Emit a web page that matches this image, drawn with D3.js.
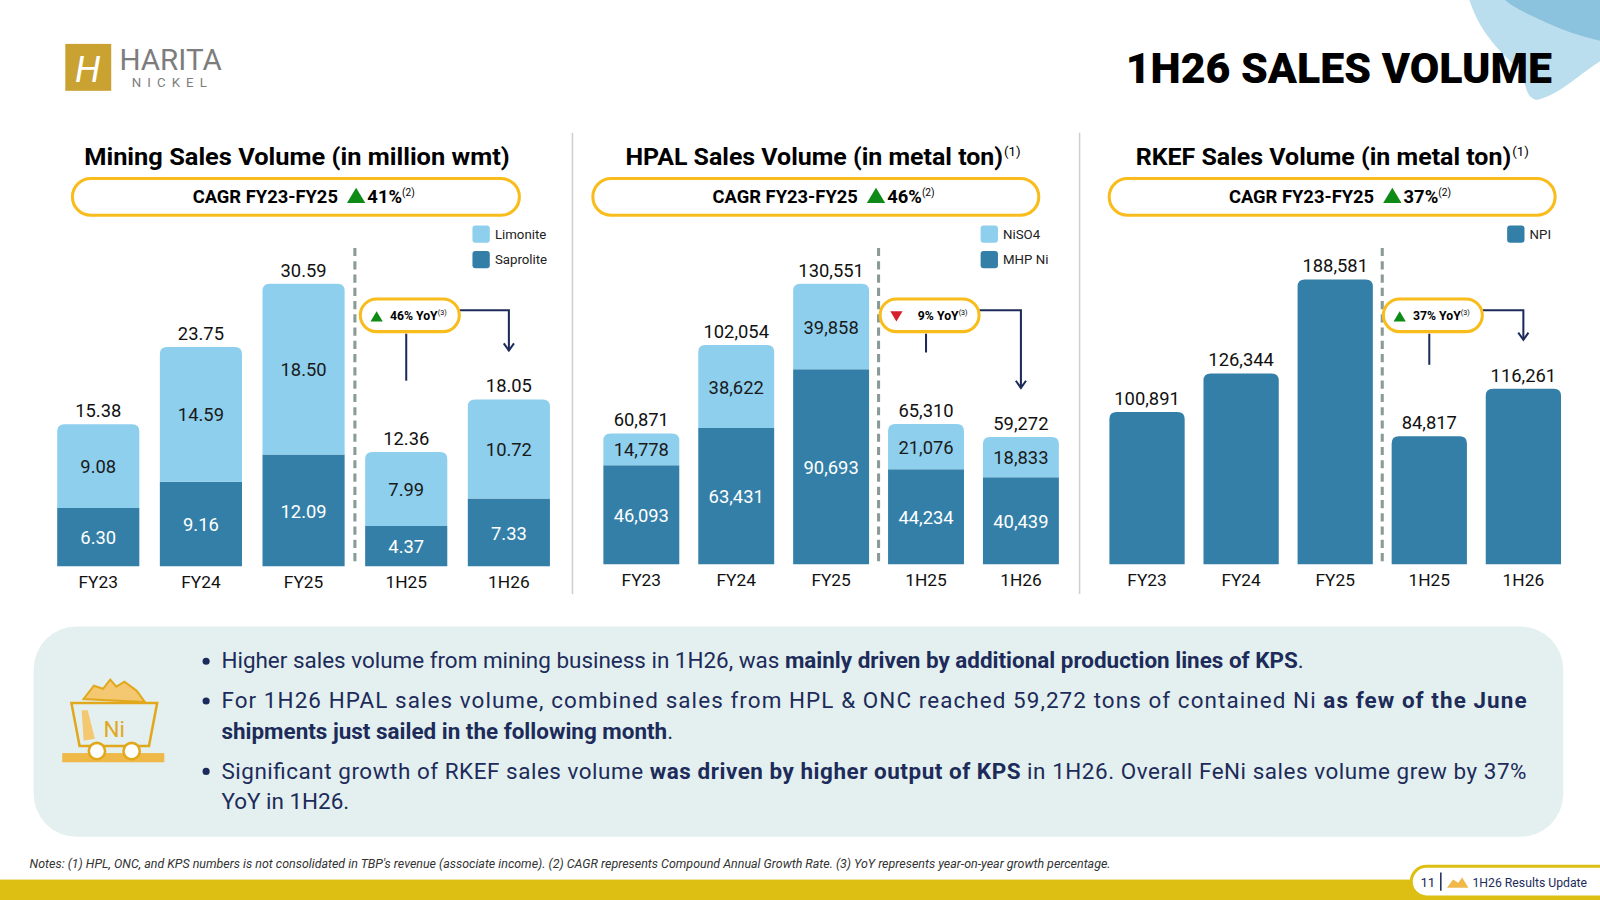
<!DOCTYPE html>
<html><head><meta charset="utf-8">
<script src="https://cdn.jsdelivr.net/npm/d3@7"></script>
<style>
body{margin:0;background:#fff;}
text{font-family:Roboto,"Open Sans",sans-serif;}
</style></head>
<body><div id="chart"></div>
<script>
// ---- data ----
const periods = ['FY23', 'FY24', 'FY25', '1H25', '1H26']
const limonite = [9.08, 14.59, 18.50, 7.99, 10.72]
const saprolite = [6.30, 9.16, 12.09, 4.37, 7.33]
const miningTotal = [15.38, 23.75, 30.59, 12.36, 18.05]
const niso4 = [14778, 38622, 39858, 21076, 18833]
const mhpNi = [46093, 63431, 90693, 44234, 40439]
const hpalTotal = [60871, 102054, 130551, 65310, 59272]
const npi = [100891, 126344, 188581, 84817, 116261]
const cagr = ['41%', '46%', '37%']
const yoy = [{v: '46%', up: true}, {v: '9%', up: false}, {v: '37%', up: true}]

const LIGHT = '#8dcfed', DARK = '#347fa8', NAVY = '#1d2b5a', GOLD = '#f8bd1c'

const svg = d3.select('#chart').append('svg')
    .attr('width', 1600).attr('height', 900)
    .attr('viewBox', '0 0 1568 882')

// top-right brush decoration
const deco = svg.append('g').attr('opacity', 0.8)
deco.append('path').attr('d', 'M1440,0 L1568,0 L1568,60 C1545,75 1525,95 1505,98 C1490,92 1500,75 1480,60 C1465,45 1450,30 1440,0Z').attr('fill', '#a9d6ea')
deco.append('path').attr('d', 'M1475,0 L1568,0 L1568,40 C1545,35 1520,25 1500,15 C1490,10 1480,5 1475,0Z').attr('fill', '#6fb3d6')

// logo
const logo = svg.append('g')
logo.append('rect').attr('x', 64).attr('y', 43).attr('width', 45).attr('height', 46).attr('fill', '#c9a232')
logo.append('text').attr('x', 86).attr('y', 80).attr('text-anchor', 'middle')
    .attr('font-family', 'DejaVu Serif').attr('font-style', 'italic').attr('font-size', 36).attr('fill', '#fff').text('H')
logo.append('text').attr('x', 117).attr('y', 69).attr('font-family', 'Liberation Serif').attr('font-size', 29).attr('fill', '#7d7d7d').text('HARITA')
logo.append('text').attr('x', 129).attr('y', 85).attr('font-family', 'Liberation Serif').attr('font-size', 13).attr('letter-spacing', 6).attr('fill', '#7d7d7d').text('NICKEL')

svg.append('text').attr('x', 1521).attr('y', 81).attr('text-anchor', 'end')
    .attr('font-weight', 900).attr('font-size', 42).attr('fill', '#000').text('1H26 SALES VOLUME')

// panel separators
;[561, 1058].forEach(x => svg.append('line').attr('x1', x).attr('x2', x).attr('y1', 130).attr('y2', 582).attr('stroke', '#cfcfcf').attr('stroke-width', 1.5))

function topRounded(x, y, w, h, r) {
    return `M${x},${y + h}V${y + r}Q${x},${y} ${x + r},${y}H${x + w - r}Q${x + w},${y} ${x + w},${y + r}V${y + h}Z`
}

const panels = [
    {title: 'Mining Sales Volume (in million wmt)', sup: false, cx: 291, tw: 417, pill: [71, 509], range: [46, 549], base: 555, top: 278, max: 30.59,
     series: [saprolite, limonite], totals: miningTotal, fmt: d3.format('.2f'), legend: ['Limonite', 'Saprolite'], legX: 463, axisY: 560},
    {title: 'HPAL Sales Volume (in metal ton)', sup: true, cx: 798, tw: 370, pill: [581, 1018], range: [582, 1047], base: 553, top: 278, max: 130551,
     series: [mhpNi, niso4], totals: hpalTotal, fmt: d3.format(','), legend: ['NiSO4', 'MHP Ni'], legX: 961, axisY: 558},
    {title: 'RKEF Sales Volume (in metal ton)', sup: true, cx: 1297, tw: 368, pill: [1087, 1524], range: [1078, 1539], base: 553, top: 274, max: 188581,
     series: [npi], totals: npi, fmt: d3.format(','), legend: ['NPI'], legX: 1477, axisY: 558}
]

panels.forEach((p, pi) => {
    const g = svg.append('g')
    g.append('text').attr('x', p.cx - p.tw / 2).attr('y', 162)
        .attr('font-weight', 700).attr('font-size', 23).attr('fill', '#000')
        .attr('textLength', p.tw).attr('lengthAdjust', 'spacingAndGlyphs').text(p.title)
    if (p.sup) g.append('text').attr('x', p.cx + p.tw / 2 + 1).attr('y', 153).attr('font-size', 13).text('(1)')

    // CAGR pill
    g.append('rect').attr('x', p.pill[0]).attr('y', 175).attr('width', p.pill[1] - p.pill[0]).attr('height', 36)
        .attr('rx', 18).attr('fill', '#fff').attr('stroke', GOLD).attr('stroke-width', 3)
    const mid = (p.pill[0] + p.pill[1]) / 2
    g.append('text').attr('x', mid - 30).attr('y', 199).attr('text-anchor', 'middle').attr('font-weight', 700).attr('font-size', 18).text('CAGR FY23-FY25')
    g.append('path').attr('d', `M${mid + 50},${199} l9,-15 l9,15z`).attr('fill', '#0e8a16')
    g.append('text').attr('x', mid + 70).attr('y', 199).attr('font-weight', 700).attr('font-size', 18).text(cagr[pi])
        .append('tspan').attr('font-size', 10).attr('dy', -7).attr('font-weight', 400).text('(2)')

    // legend
    const lcols = p.series.length === 2 ? [LIGHT, DARK] : [DARK]
    p.legend.forEach((l, i) => {
        g.append('rect').attr('x', p.legX).attr('y', 221 + i * 25).attr('width', 17).attr('height', 17).attr('rx', 3).attr('fill', lcols[i])
        g.append('text').attr('x', p.legX + 22).attr('y', 234 + i * 25).attr('font-size', 13).attr('fill', '#222').text(l)
    })

    const x = d3.scaleBand().domain(periods).range(p.range).paddingInner(0.2).paddingOuter(0.1)
    const y = d3.scaleLinear().domain([0, p.max]).range([p.base, p.top])
    const bw = x.bandwidth()

    // stacked bars
    const stacked = periods.map((per, i) => {
        let acc = 0
        return p.series.map((s, si) => {
            const seg = {per, y0: acc, y1: acc + s[i], v: s[i], si, last: si === p.series.length - 1}
            acc += s[i]
            return seg
        })
    }).flat()
    const colorOf = si => p.series.length === 2 ? (si === 0 ? DARK : LIGHT) : DARK

    g.selectAll('.bar').data(stacked).enter().append('path').attr('class', 'bar')
        .attr('d', d => d.last ? topRounded(x(d.per), y(d.y1), bw, y(d.y0) - y(d.y1), 7)
                               : `M${x(d.per)},${y(d.y1)}h${bw}V${y(d.y0)}h${-bw}Z`)
        .attr('fill', d => colorOf(d.si))

    if (p.series.length === 2) {
        g.selectAll('.inlabel').data(stacked).enter().append('text')
            .attr('x', d => x(d.per) + bw / 2).attr('y', d => (y(d.y0) + y(d.y1)) / 2 + 7)
            .attr('text-anchor', 'middle').attr('font-size', 18)
            .attr('fill', d => d.si === 0 ? '#fff' : '#1a1a1a').text(d => p.fmt(d.v))
    }
    g.selectAll('.total').data(periods).enter().append('text')
        .attr('x', d => x(d) + bw / 2).attr('y', (d, i) => y(p.totals[i]) - 7)
        .attr('text-anchor', 'middle').attr('font-size', 18).attr('fill', '#111')
        .text((d, i) => p.fmt(p.totals[i]))

    // axis
    const ax = g.append('g').attr('transform', `translate(0,${p.axisY})`)
        .call(d3.axisBottom(x).tickSize(0).tickPadding(4))
    ax.select('.domain').remove()
    ax.selectAll('text').attr('font-size', 17).attr('fill', '#111').attr('font-family', 'Roboto')

    // dashed divider
    const dx = (x('FY25') + bw + x('1H25')) / 2
    g.append('line').attr('x1', dx).attr('x2', dx).attr('y1', 243).attr('y2', p.base)
        .attr('stroke', '#8a9a96').attr('stroke-width', 3).attr('stroke-dasharray', '8,5')

    // YoY badge and connector
    const bx1 = x('1H25') + bw / 2, bx2 = x('1H26') + bw / 2
    const bl = bx1 - 45, bt = 293
    const arrowEnd = y(p.totals[4]) - 48
    const vEnd = y(p.totals[3]) - 70
    g.append('path').attr('d', `M${bl + 97},${bt + 11}H${bx2}V${arrowEnd}`).attr('fill', 'none').attr('stroke', NAVY).attr('stroke-width', 2)
    g.append('path').attr('d', `M${bx2 - 5},${arrowEnd - 7}L${bx2},${arrowEnd}L${bx2 + 5},${arrowEnd - 7}`).attr('fill', 'none').attr('stroke', NAVY).attr('stroke-width', 2)
    g.append('line').attr('x1', bx1).attr('x2', bx1).attr('y1', bt + 34).attr('y2', Math.max(vEnd, bt + 47)).attr('stroke', NAVY).attr('stroke-width', 2)
    g.append('rect').attr('x', bl).attr('y', bt).attr('width', 97).attr('height', 32).attr('rx', 16)
        .attr('fill', '#fff').attr('stroke', GOLD).attr('stroke-width', 3)
    const yy = yoy[pi]
    g.append('path').attr('d', yy.up ? `M${bl + 10},${bt + 22} l6,-10 l6,10z` : `M${bl + 10},${bt + 12} l6,10 l6,-10z`)
        .attr('fill', yy.up ? '#0e8a16' : '#d6202a')
    g.append('text').attr('x', bl + (yy.up ? 29 : 37)).attr('y', bt + 21).attr('font-weight', 700).attr('font-size', 12).text(yy.v + ' YoY')
        .append('tspan').attr('font-size', 7).attr('dy', -5).attr('font-weight', 400).text('(3)')
})

// bottom box
svg.append('rect').attr('x', 33).attr('y', 614).attr('width', 1499).attr('height', 206).attr('rx', 42).attr('fill', '#e3f0ef')

// Ni cart icon
const ic = svg.append('g')
ic.append('rect').attr('x', 61).attr('y', 738).attr('width', 100).attr('height', 9).attr('fill', '#efb949')
ic.append('path').attr('d', 'M82,685 L92,672 L101,675 L108,666 L114,673 L122,668 L134,677 L142,688Z').attr('fill', '#f4c870').attr('stroke', '#e2a81d').attr('stroke-width', 2)
ic.append('path').attr('d', 'M70,689 H154 L146,731 H78Z').attr('fill', '#e3f0ef').attr('stroke', '#e2a81d').attr('stroke-width', 2.5)
ic.append('path').attr('d', 'M80,696 L86,696 L93,724 L82,726Z').attr('fill', '#f4c870')
ic.append('text').attr('x', 112).attr('y', 722).attr('text-anchor', 'middle').attr('font-size', 22).attr('fill', '#e2a81d').text('Ni')
;[95, 129].forEach(cx => ic.append('circle').attr('cx', cx).attr('cy', 736).attr('r', 8).attr('fill', '#fff').attr('stroke', '#e2a81d').attr('stroke-width', 2.5))

// bullets
const bulletLines = [
    {y: 655, bullet: true, parts: [['Higher sales volume from mining business in 1H26, was ', 400], ['mainly driven by additional production lines of KPS', 700], ['.', 400]]},
    {y: 694, bullet: true, justify: true, parts: [['For 1H26 HPAL sales volume, combined sales from HPL & ONC reached 59,272 tons of contained Ni ', 400], ['as few of the June', 700]]},
    {y: 724, parts: [['shipments just sailed in the following month', 700], ['.', 400]]},
    {y: 763, bullet: true, justify: true, parts: [['Significant growth of RKEF sales volume ', 400], ['was driven by higher output of KPS', 700], [' in 1H26. Overall FeNi sales volume grew by 37%', 400]]},
    {y: 793, parts: [['YoY in 1H26.', 400]]}
]
bulletLines.forEach(l => {
    if (l.bullet) svg.append('circle').attr('cx', 202).attr('cy', l.y - 7).attr('r', 3.5).attr('fill', NAVY)
    const t = svg.append('text').attr('x', 217).attr('y', l.y).attr('font-size', 22).attr('fill', NAVY)
    if (l.justify) t.attr('textLength', 1279).attr('lengthAdjust', 'spacing')
    l.parts.forEach(([s, w]) => t.append('tspan').attr('font-weight', w).attr('xml:space', 'preserve').text(s))
})

svg.append('text').attr('x', 29).attr('y', 851).attr('font-size', 12.2).attr('font-style', 'italic').attr('fill', '#333')
    .text("Notes: (1) HPL, ONC, and KPS numbers is not consolidated in TBP's revenue (associate income). (2) CAGR represents Compound Annual Growth Rate. (3) YoY represents year-on-year growth percentage.")

// footer band
svg.append('rect').attr('x', 0).attr('y', 862).attr('width', 1568).attr('height', 20).attr('fill', '#dcbf12')
svg.append('rect').attr('x', 1383).attr('y', 849).attr('width', 200).attr('height', 30).attr('rx', 15).attr('fill', '#fff').attr('stroke', '#dcbf12').attr('stroke-width', 3)
svg.append('text').attr('x', 1392).attr('y', 869).attr('font-size', 13).attr('fill', NAVY).text('11')
svg.append('line').attr('x1', 1412).attr('x2', 1412).attr('y1', 855).attr('y2', 873).attr('stroke', NAVY).attr('stroke-width', 1.5)
svg.append('path').attr('d', 'M1418,870 l6,-8 l5,3 l4,-5 l6,10z').attr('fill', '#f0b94a')
svg.append('text').attr('x', 1443).attr('y', 869).attr('font-size', 12).attr('fill', NAVY).text('1H26 Results Update')
</script>
</body></html>
